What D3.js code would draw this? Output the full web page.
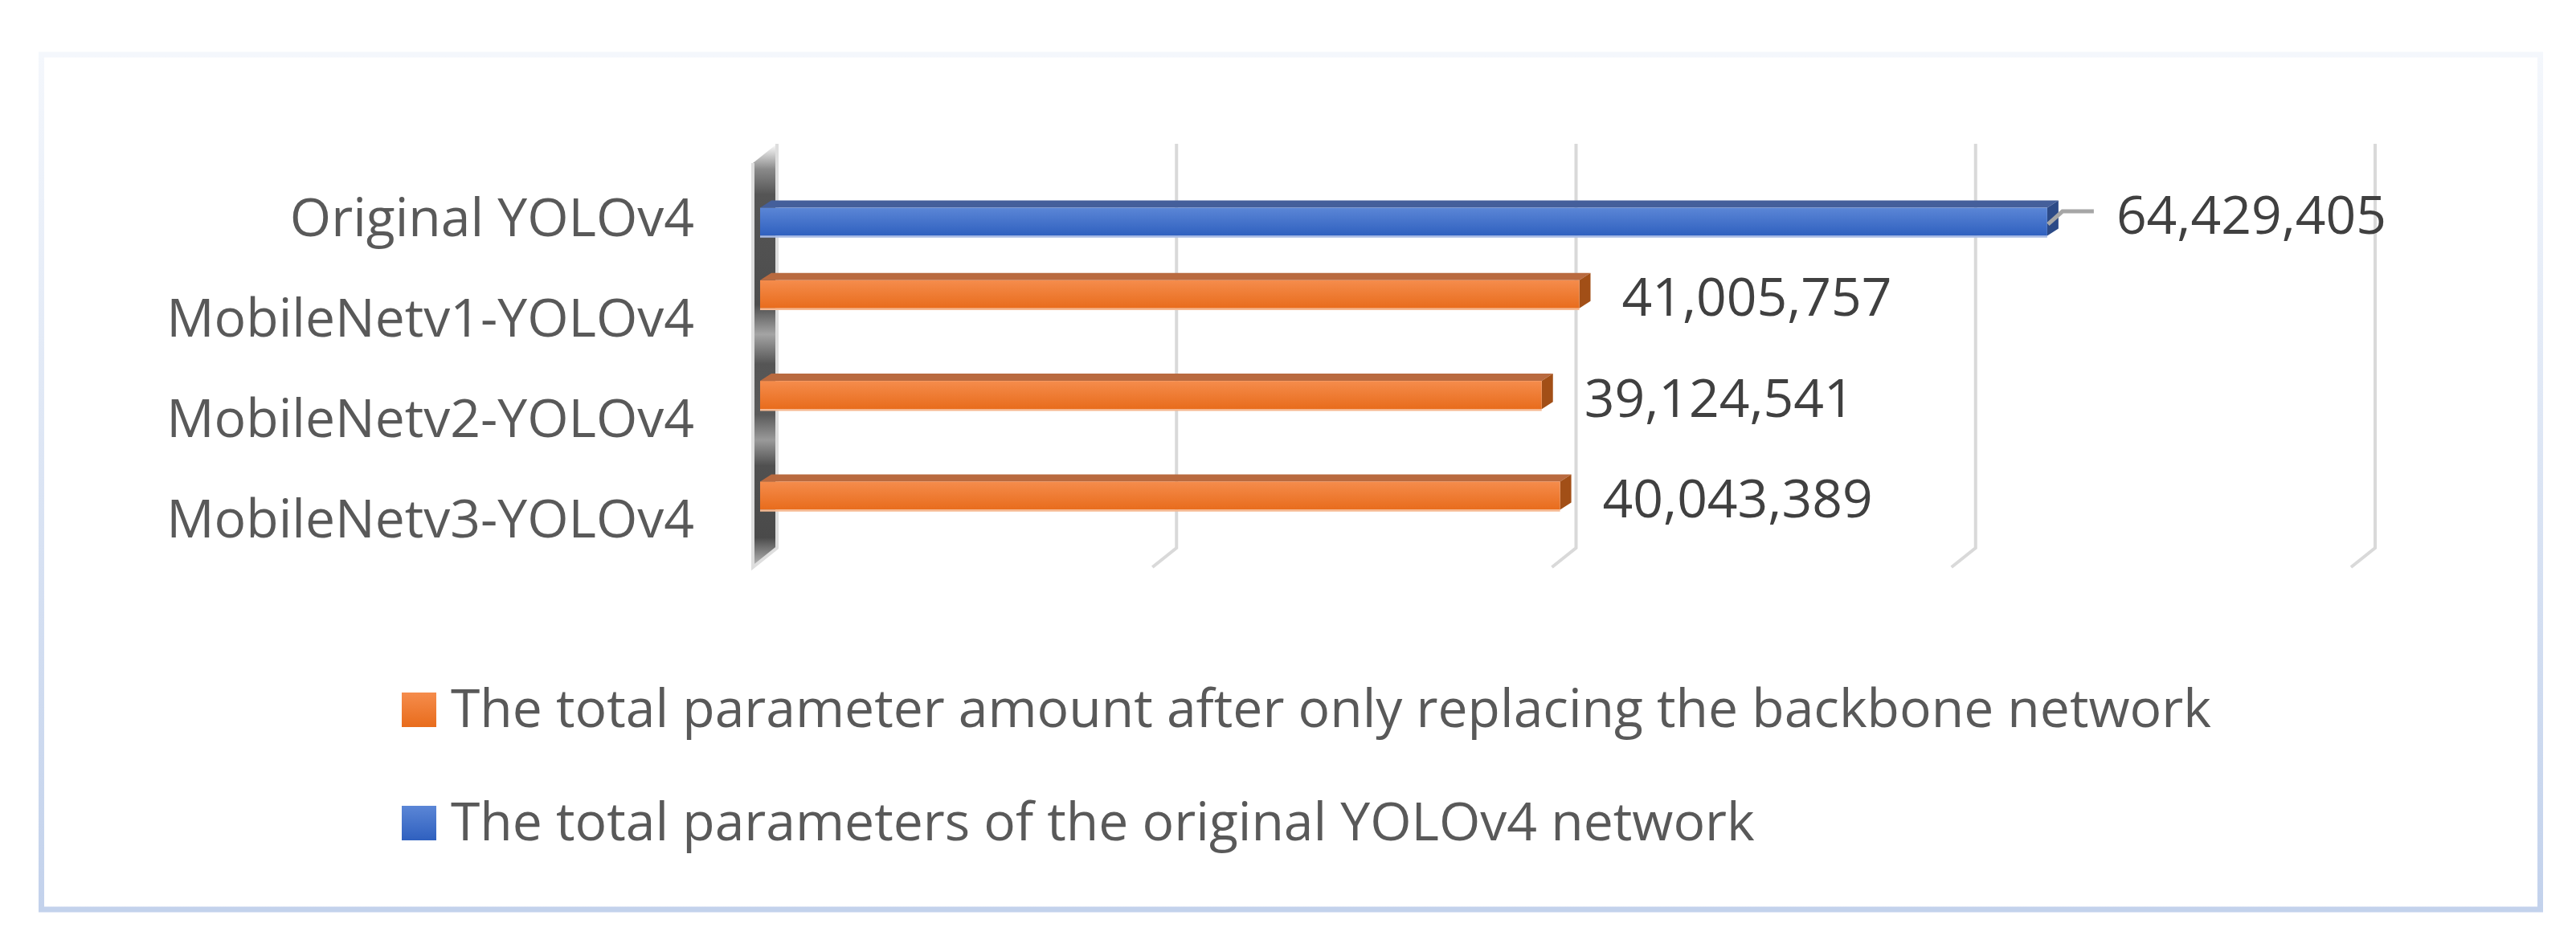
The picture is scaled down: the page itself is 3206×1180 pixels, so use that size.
<!DOCTYPE html>
<html>
<head>
<meta charset="utf-8">
<script src="https://cdn.jsdelivr.net/npm/d3@7"></script>
<style>
  html, body { margin: 0; padding: 0; background: #ffffff; }
  svg { display: block; }
  text { font-family: "Open Sans", Lato, sans-serif; }
</style>
</head>
<body>
<svg id="chart" width="3206" height="1180"></svg>
<script>
// data
const categories = ["Original YOLOv4", "MobileNetv1-YOLOv4", "MobileNetv2-YOLOv4", "MobileNetv3-YOLOv4"];
const seriesNames = [
  "The total parameter amount after only replacing the backbone network",
  "The total parameters of the original YOLOv4 network"
];
const backboneValues = [null, 41005757, 39124541, 40043389];
const originalValues = [64429405, null, null, null];
const xTicks = [0, 20000000, 40000000, 60000000, 80000000];

const svg = d3.select("#chart");
const fontSize = 66;

// 3d look: back wall sits up-right of the front plane
const depth = { dx: 30, dy: -24 };
const barDepth = { dx: 14, dy: -9 };

const plot = { left: 946, right: 2935, top: 196, bottom: 697 };

const xScale = d3.scaleLinear()
    .domain([0, 80000000])
    .range([plot.left, plot.right]);

const yScale = d3.scaleBand()
    .domain(categories)
    .range([plot.top, plot.bottom])
    .paddingInner(0.441)
    .paddingOuter(0.22);

const seriesKeys = ["backbone", "original"];
const ySub = d3.scaleBand()
    .domain(seriesKeys)
    .range([0, yScale.bandwidth()]);

const styles = {
  backbone: { top: "#f58c4c", bottom: "#e86c1c", lid: "#b96a3f", side: "#a24f17", edge: "#f6b890" },
  original: { top: "#5b86d6", bottom: "#2f60bf", lid: "#445f9b", side: "#2c4a87", edge: "#a9bbe5" }
};

const rows = [];
categories.forEach((c, i) => {
  if (backboneValues[i] != null) rows.push({ cat: c, key: "backbone", value: backboneValues[i] });
  if (originalValues[i] != null) rows.push({ cat: c, key: "original", value: originalValues[i] });
});

const defs = svg.append("defs");

function vGrad(id, stops) {
  const g = defs.append("linearGradient")
      .attr("id", id)
      .attr("x1", 0).attr("y1", 0).attr("x2", 0).attr("y2", 1);
  stops.forEach(s => g.append("stop").attr("offset", s[0]).attr("stop-color", s[1]));
}

seriesKeys.forEach(k => vGrad("face-" + k, [[0, styles[k].top], [1, styles[k].bottom]]));
vGrad("frame-grad", [[0, "#f4f7fc"], [1, "#c3d2ec"]]);
vGrad("wall-grad", [
  [0, "#ffffff"], [0.06, "#8a8a8a"], [0.12, "#555555"], [0.38, "#4d4d4d"],
  [0.45, "#a4a4a4"], [0.52, "#555555"], [0.64, "#5a5a5a"], [0.7, "#9a9a9a"],
  [0.76, "#505050"], [0.93, "#4a4a4a"], [1, "#bdbdbd"]
]);

// outer frame
svg.append("rect")
    .attr("x", 51.5).attr("y", 68)
    .attr("width", 3110).attr("height", 1064)
    .attr("fill", "#ffffff")
    .attr("stroke", "url(#frame-grad)")
    .attr("stroke-width", 7);

// gridlines on the back wall plus the short floor segment
const backX = v => xScale(v) + 21;
const wallTop = 179, wallBottom = 682;

svg.append("g")
    .attr("class", "grid")
    .selectAll("path")
    .data(xTicks.slice(1))
    .join("path")
    .attr("d", d => `M${backX(d)},${wallTop} L${backX(d)},${wallBottom} L${backX(d) - depth.dx},${wallBottom - depth.dy}`)
    .attr("fill", "none")
    .attr("stroke", "#d9d9d9")
    .attr("stroke-width", 4);

// side wall at zero
const x0 = backX(0);
const wallPts = [
  [x0 - depth.dx, wallTop - depth.dy],
  [x0, wallTop],
  [x0, wallBottom],
  [x0 - depth.dx, wallBottom - depth.dy]
];
svg.append("polygon")
    .attr("points", wallPts.map(p => p.join(",")).join(" "))
    .attr("fill", "url(#wall-grad)");
svg.append("path")
    .attr("d", `M${wallPts[0]} L${wallPts[3]} L${wallPts[2]} L${wallPts[1]}`)
    .attr("fill", "none")
    .attr("stroke", "#dedede")
    .attr("stroke-width", 4);

// bars
const bars = svg.append("g").attr("class", "bars")
    .selectAll("g")
    .data(rows)
    .join("g");

bars.each(function(d) {
  const g = d3.select(this);
  const s = styles[d.key];
  const xa = xScale(0), xb = xScale(d.value);
  const y1 = yScale(d.cat) + ySub(d.key);
  const y2 = y1 + ySub.bandwidth();

  g.append("polygon")
      .attr("points", [[xa, y1], [xa + barDepth.dx, y1 + barDepth.dy], [xb + barDepth.dx, y1 + barDepth.dy], [xb, y1]].join(" "))
      .attr("fill", s.lid);
  g.append("polygon")
      .attr("points", [[xb, y1], [xb + barDepth.dx, y1 + barDepth.dy], [xb + barDepth.dx, y2 + barDepth.dy], [xb, y2]].join(" "))
      .attr("fill", s.side);
  g.append("rect")
      .attr("x", xa).attr("y", y1)
      .attr("width", xb - xa).attr("height", y2 - y1)
      .attr("fill", `url(#face-${d.key})`);
  g.append("line")
      .attr("x1", xa).attr("x2", xb)
      .attr("y1", y2 + 1).attr("y2", y2 + 1)
      .attr("stroke", s.edge)
      .attr("stroke-width", 2.5);
});

// data labels
const fmt = d3.format(",");
const labels = svg.append("g").attr("class", "data-labels");

rows.forEach(d => {
  const xb = xScale(d.value);
  const yc = yScale(d.cat) + ySub(d.key) + ySub.bandwidth() / 2;
  if (d.key === "original") {
    // this label was dragged away in the original, so it has a leader line
    const lx = xb + 86, ly = yc + 15;
    labels.append("path")
        .attr("d", `M${xb + 1},${yc + 3} L${xb + 19},${ly - 28} L${lx - 28},${ly - 28}`)
        .attr("fill", "none")
        .attr("stroke", "#a6a6a6")
        .attr("stroke-width", 5);
    labels.append("text")
        .attr("x", lx).attr("y", ly)
        .attr("font-size", fontSize).attr("fill", "#404040")
        .text(fmt(d.value));
  } else {
    labels.append("text")
        .attr("x", xb + 53).attr("y", yc + 27)
        .attr("font-size", fontSize).attr("fill", "#404040")
        .text(fmt(d.value));
  }
});

// category labels
svg.append("g").attr("class", "y-labels")
    .selectAll("text")
    .data(categories)
    .join("text")
    .attr("x", 864)
    .attr("y", d => yScale(d) + yScale.bandwidth() / 2 + 35)
    .attr("text-anchor", "end")
    .attr("font-size", fontSize)
    .attr("fill", "#595959")
    .text(d => d);

// legend
const legend = svg.append("g").attr("class", "legend")
    .selectAll("g")
    .data(seriesKeys)
    .join("g")
    .attr("transform", (d, i) => `translate(500,${862 + i * 141})`);

legend.append("rect")
    .attr("width", 43).attr("height", 43)
    .attr("fill", d => `url(#face-${d})`);

legend.append("text")
    .attr("x", 61).attr("y", 43)
    .attr("font-size", fontSize)
    .attr("fill", "#595959")
    .text((d, i) => seriesNames[i]);
</script>
</body>
</html>
